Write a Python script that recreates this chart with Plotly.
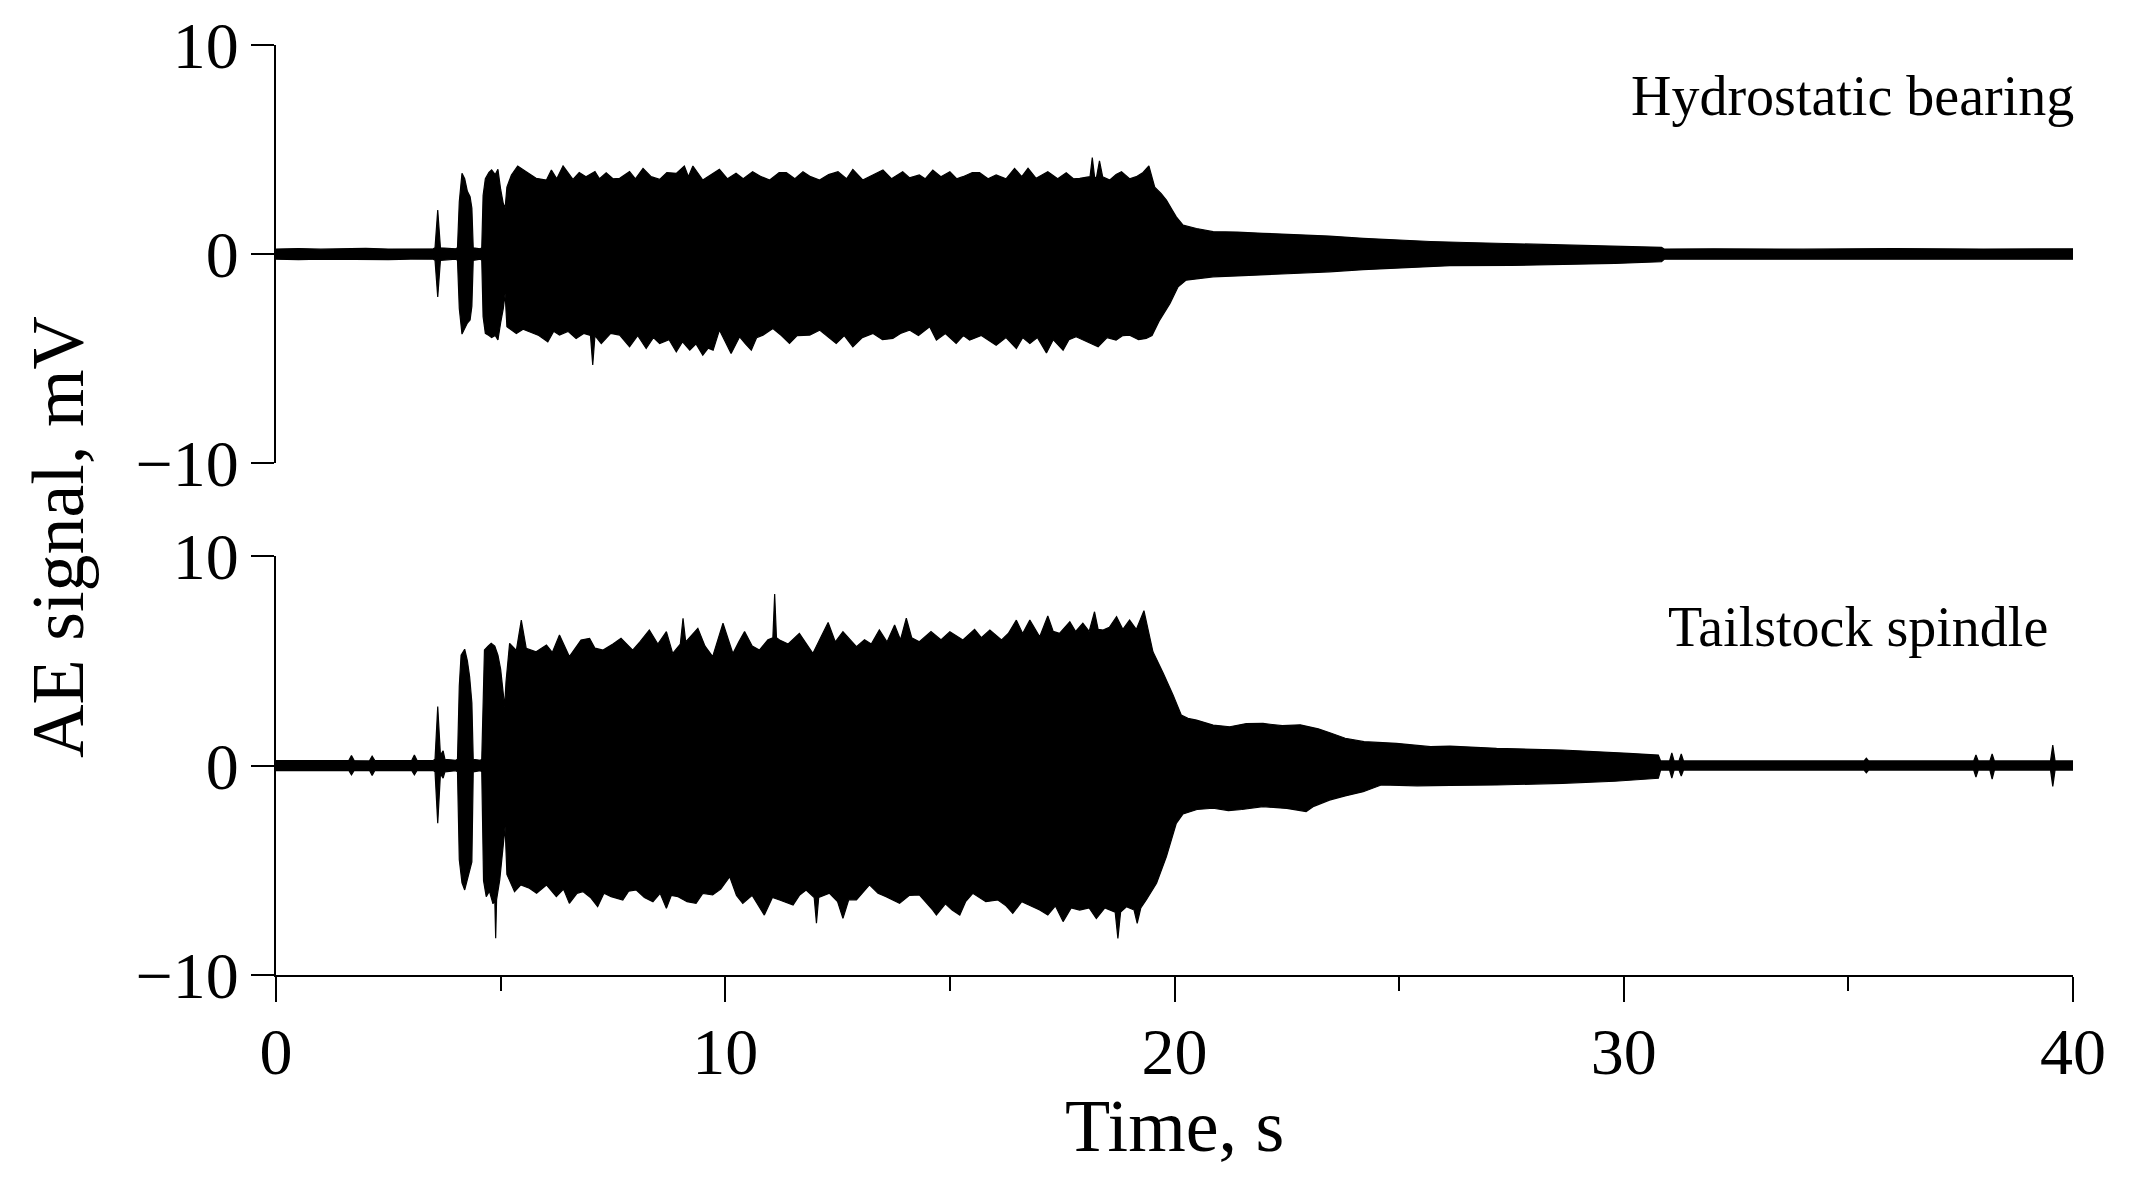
import plotly.graph_objects as go

# ---------------- data ----------------
# Hydrostatic bearing: upper envelope (time s, AE mV)
HB_UPPER = [
    (0.0, 0.24), (0.5, 0.26), (1.0, 0.23), (1.5, 0.25), (2.0, 0.27), (2.5, 0.24), (3.0, 0.26), (3.5, 0.25),
    (3.54, 0.3), (3.60, 2.1), (3.66, 0.3), (4.0, 0.25),
    (4.04, 0.3), (4.08, 2.5), (4.14, 3.86), (4.2, 3.6), (4.26, 3.0), (4.32, 2.74), (4.36, 2.2), (4.39, 0.3),
    (4.55, 0.25), (4.58, 0.3), (4.61, 2.8), (4.66, 3.6), (4.74, 3.9), (4.8, 4.02), (4.88, 3.8), (4.94, 4.05),
    (5.0, 3.1), (5.06, 2.4), (5.1, 2.2), (5.14, 3.2), (5.24, 3.78), (5.38, 4.21), (5.57, 3.94), (5.79, 3.62),
    (6.02, 3.54), (6.13, 4.02), (6.25, 3.6), (6.39, 4.21), (6.61, 3.57), (6.75, 3.9), (6.9, 3.7), (7.1, 3.95),
    (7.2, 3.6), (7.35, 3.89), (7.5, 3.6), (7.65, 3.62), (7.87, 3.94), (8.0, 3.6), (8.17, 4.1), (8.35, 3.7),
    (8.54, 3.57), (8.7, 3.9), (8.91, 3.86), (9.09, 4.21), (9.18, 3.7), (9.28, 4.21), (9.5, 3.54), (9.7, 3.8),
    (9.87, 4.05), (10.05, 3.6), (10.24, 3.86), (10.4, 3.6), (10.61, 3.94), (10.8, 3.7), (10.99, 3.54),
    (11.2, 3.9), (11.36, 3.89), (11.55, 3.6), (11.73, 3.94), (11.9, 3.7), (12.1, 3.54), (12.3, 3.8),
    (12.51, 3.94), (12.7, 3.6), (12.84, 4.05), (13.06, 3.54), (13.3, 3.8), (13.51, 4.02), (13.7, 3.6),
    (13.95, 3.94), (14.1, 3.65), (14.32, 3.78), (14.45, 3.6), (14.62, 4.02), (14.8, 3.7), (15.0, 3.94),
    (15.15, 3.6), (15.29, 3.7), (15.5, 3.9), (15.66, 3.89), (15.85, 3.6), (16.03, 3.78), (16.25, 3.6),
    (16.44, 4.1), (16.6, 3.7), (16.74, 4.1), (16.92, 3.62), (17.05, 3.8), (17.18, 3.94), (17.4, 3.6),
    (17.59, 3.89), (17.75, 3.6), (17.89, 3.62), (18.12, 3.7), (18.17, 4.62), (18.22, 3.7), (18.26, 3.62),
    (18.33, 4.46), (18.4, 3.7), (18.56, 3.54), (18.7, 3.8), (18.82, 3.94), (19.0, 3.6), (19.15, 3.7),
    (19.3, 3.9), (19.43, 4.21), (19.56, 3.2), (19.7, 2.9), (19.82, 2.58), (19.95, 2.1), (20.04, 1.78),
    (20.19, 1.38), (20.49, 1.22), (20.86, 1.07), (21.4, 1.05), (21.97, 0.99), (22.6, 0.95), (23.45, 0.86),
    (24.2, 0.75), (25.0, 0.66), (25.7, 0.6), (26.5, 0.55), (27.5, 0.5), (28.65, 0.46), (29.8, 0.4),
    (30.5, 0.36), (30.84, 0.32), (30.9, 0.24), (32.0, 0.25), (34.0, 0.23), (36.0, 0.26), (38.0, 0.24),
    (40.0, 0.25),
]
# Hydrostatic bearing: lower envelope
HB_LOWER = [
    (0.0, -0.25), (0.5, -0.27), (1.0, -0.24), (1.5, -0.26), (2.0, -0.25), (2.5, -0.27), (3.0, -0.24),
    (3.5, -0.25), (3.54, -0.3), (3.60, -2.05), (3.66, -0.3), (4.0, -0.25),
    (4.04, -0.3), (4.08, -2.6), (4.14, -3.83), (4.2, -3.6), (4.26, -3.3), (4.32, -3.16), (4.36, -2.5),
    (4.39, -0.3), (4.55, -0.25), (4.58, -0.3), (4.61, -3.0), (4.66, -3.8), (4.74, -3.9), (4.8, -4.0),
    (4.88, -3.9), (4.94, -4.11), (5.0, -3.3), (5.06, -2.6), (5.1, -1.9), (5.14, -3.48), (5.35, -3.8),
    (5.5, -3.6), (5.64, -3.72), (5.85, -3.9), (6.05, -4.2), (6.18, -3.7), (6.31, -3.88), (6.5, -3.7),
    (6.68, -4.04), (6.85, -3.8), (7.0, -3.9), (7.05, -5.31), (7.1, -3.9), (7.24, -4.28), (7.45, -3.8),
    (7.65, -3.88), (7.87, -4.44), (8.05, -3.9), (8.24, -4.52), (8.4, -4.0), (8.54, -4.28), (8.75, -4.1),
    (8.91, -4.68), (9.05, -4.2), (9.21, -4.6), (9.35, -4.3), (9.5, -4.84), (9.62, -4.5), (9.73, -4.6),
    (9.87, -3.64), (10.0, -4.2), (10.13, -4.76), (10.32, -3.96), (10.45, -4.3), (10.58, -4.6),
    (10.7, -4.0), (10.84, -3.88), (11.06, -3.56), (11.25, -3.9), (11.43, -4.28), (11.6, -3.9),
    (11.88, -3.88), (12.1, -3.64), (12.3, -4.0), (12.47, -4.28), (12.65, -3.9), (12.84, -4.44),
    (13.05, -4.0), (13.29, -3.8), (13.5, -4.1), (13.73, -4.04), (13.9, -3.8), (14.1, -3.64),
    (14.3, -3.9), (14.55, -3.48), (14.7, -4.12), (14.9, -3.8), (15.14, -4.28), (15.3, -3.9),
    (15.44, -4.12), (15.7, -3.9), (16.03, -4.36), (16.25, -4.0), (16.48, -4.52), (16.62, -4.0),
    (16.78, -4.28), (16.95, -4.0), (17.15, -4.73), (17.3, -4.1), (17.52, -4.6), (17.65, -4.1),
    (17.81, -3.96), (18.05, -4.2), (18.3, -4.44), (18.5, -4.0), (18.7, -4.12), (18.85, -3.9),
    (19.0, -3.88), (19.2, -4.1), (19.37, -4.04), (19.5, -3.9), (19.67, -3.16), (19.9, -2.36),
    (20.08, -1.57), (20.26, -1.25), (20.86, -1.09), (21.4, -1.05), (21.97, -1.0), (22.7, -0.93),
    (23.45, -0.85), (24.2, -0.75), (24.94, -0.66), (26.13, -0.56), (27.5, -0.55), (28.65, -0.5),
    (29.8, -0.45), (30.84, -0.37), (30.9, -0.25), (32.0, -0.26), (34.0, -0.24), (36.0, -0.27),
    (38.0, -0.25), (40.0, -0.25),
]

# Tailstock spindle: upper envelope
TS_UPPER = [
    (0.0, 0.24), (1.0, 0.22), (1.62, 0.24), (1.68, 0.48), (1.74, 0.24), (2.08, 0.22), (2.14, 0.45),
    (2.2, 0.24), (3.02, 0.24), (3.08, 0.5), (3.14, 0.24), (3.5, 0.24), (3.54, 0.3), (3.6, 2.81),
    (3.66, 0.5), (3.72, 0.7), (3.76, 0.3), (4.0, 0.25),
    (4.04, 0.3), (4.08, 3.8), (4.12, 5.27), (4.2, 5.55), (4.26, 5.0), (4.31, 4.24), (4.36, 3.0),
    (4.39, 0.3), (4.55, 0.25), (4.58, 0.3), (4.62, 4.5), (4.64, 5.51), (4.72, 5.7), (4.79, 5.83),
    (4.87, 5.7), (4.94, 5.27), (5.0, 4.6), (5.06, 3.5), (5.09, 2.81), (5.12, 4.0), (5.2, 5.83),
    (5.35, 5.5), (5.46, 6.94), (5.57, 5.59), (5.79, 5.43), (6.02, 5.75), (6.15, 5.4), (6.31, 6.23),
    (6.53, 5.2), (6.79, 5.99), (6.98, 6.07), (7.1, 5.6), (7.28, 5.51), (7.5, 5.8), (7.68, 6.07),
    (7.94, 5.51), (8.1, 5.9), (8.31, 6.47), (8.5, 5.8), (8.69, 6.39), (8.83, 5.35), (9.0, 5.8),
    (9.06, 7.03), (9.12, 5.9), (9.39, 6.55), (9.55, 5.7), (9.72, 5.2), (9.95, 6.79), (10.17, 5.35),
    (10.3, 5.9), (10.43, 6.39), (10.6, 5.7), (10.76, 5.51), (10.95, 6.0), (11.06, 6.1), (11.1, 8.19),
    (11.14, 6.1), (11.21, 5.99), (11.4, 5.8), (11.65, 6.31), (11.8, 5.8), (11.95, 5.35), (12.1, 6.0),
    (12.29, 6.83), (12.45, 5.9), (12.62, 6.39), (12.92, 5.67), (13.1, 6.0), (13.25, 5.8), (13.43, 6.47),
    (13.6, 5.9), (13.77, 6.71), (13.9, 6.0), (14.03, 7.03), (14.15, 6.1), (14.32, 5.91), (14.58, 6.39),
    (14.8, 6.0), (15.0, 6.39), (15.29, 5.99), (15.55, 6.5), (15.7, 6.1), (15.89, 6.47), (16.15, 5.99),
    (16.3, 6.3), (16.48, 6.94), (16.62, 6.3), (16.78, 6.94), (17.0, 6.15), (17.18, 7.14), (17.3, 6.4),
    (17.44, 6.31), (17.67, 6.86), (17.8, 6.4), (17.96, 6.79), (18.1, 6.4), (18.22, 7.34), (18.3, 6.5),
    (18.41, 6.47), (18.55, 6.6), (18.71, 7.1), (18.85, 6.5), (19.0, 6.94), (19.15, 6.5), (19.32, 7.39),
    (19.4, 6.6), (19.52, 5.43), (19.75, 4.4), (19.97, 3.36), (20.15, 2.41), (20.3, 2.25), (20.49, 2.17),
    (20.86, 1.93), (21.23, 1.85), (21.6, 2.0), (21.97, 2.01), (22.4, 1.9), (22.8, 1.94), (23.2, 1.75),
    (23.49, 1.54), (23.8, 1.3), (24.22, 1.14), (24.94, 1.06), (25.7, 0.9), (26.13, 0.93), (27.17, 0.82),
    (28.64, 0.74), (30.11, 0.58), (30.77, 0.5), (30.82, 0.22), (31.02, 0.22), (31.07, 0.6), (31.12, 0.22),
    (31.23, 0.22), (31.28, 0.55), (31.33, 0.22), (33.0, 0.21), (35.35, 0.22), (35.4, 0.35), (35.45, 0.22),
    (37.79, 0.22), (37.84, 0.5), (37.89, 0.22), (38.15, 0.22), (38.2, 0.55), (38.25, 0.22),
    (39.5, 0.22), (39.55, 0.98), (39.6, 0.22), (40.0, 0.22),
]
# Tailstock spindle: lower envelope
TS_LOWER = [
    (0.0, -0.24), (1.0, -0.23), (1.62, -0.24), (1.68, -0.45), (1.74, -0.24), (2.08, -0.23), (2.14, -0.47),
    (2.2, -0.24), (3.02, -0.24), (3.08, -0.45), (3.14, -0.24), (3.5, -0.24), (3.54, -0.3), (3.6, -2.76),
    (3.66, -0.4), (3.72, -0.6), (3.76, -0.3), (4.0, -0.25),
    (4.04, -0.3), (4.08, -4.5), (4.14, -5.6), (4.2, -5.94), (4.26, -5.5), (4.31, -4.99), (4.36, -4.6),
    (4.39, -0.3), (4.55, -0.25), (4.58, -0.3), (4.62, -5.5), (4.68, -6.26), (4.75, -6.0), (4.83, -6.6),
    (4.87, -6.4), (4.89, -8.25), (4.91, -6.4), (4.98, -5.46), (5.05, -4.0), (5.1, -2.92), (5.14, -5.2),
    (5.2, -5.46), (5.31, -6.02), (5.45, -5.7), (5.64, -5.86), (5.8, -6.1), (6.02, -5.7), (6.24, -6.26),
    (6.4, -5.9), (6.53, -6.58), (6.7, -6.1), (6.83, -6.02), (7.0, -6.3), (7.16, -6.74), (7.3, -6.1),
    (7.46, -6.26), (7.72, -6.42), (7.85, -6.0), (8.02, -5.94), (8.2, -6.3), (8.39, -6.5), (8.55, -6.1),
    (8.69, -6.82), (8.8, -6.2), (8.95, -6.26), (9.15, -6.5), (9.35, -6.58), (9.5, -6.1), (9.72, -6.18),
    (9.9, -5.9), (10.1, -5.31), (10.25, -6.2), (10.39, -6.58), (10.6, -6.2), (10.87, -7.14),
    (11.05, -6.3), (11.21, -6.42), (11.51, -6.66), (11.65, -6.2), (11.8, -5.94), (11.98, -6.3),
    (12.03, -7.53), (12.08, -6.3), (12.32, -6.1), (12.5, -6.5), (12.62, -7.3), (12.75, -6.4),
    (12.92, -6.42), (13.21, -5.7), (13.4, -6.1), (13.58, -6.26), (13.88, -6.58), (14.1, -6.2),
    (14.32, -6.18), (14.62, -6.9), (14.7, -7.14), (14.9, -6.6), (15.05, -6.9), (15.22, -7.14),
    (15.35, -6.5), (15.51, -6.1), (15.8, -6.5), (16.07, -6.42), (16.25, -6.7), (16.4, -7.06),
    (16.6, -6.5), (16.78, -6.66), (17.0, -6.9), (17.18, -7.14), (17.35, -6.7), (17.52, -7.45),
    (17.7, -6.8), (17.89, -6.9), (18.1, -6.8), (18.26, -7.3), (18.45, -6.8), (18.68, -7.0),
    (18.74, -8.25), (18.8, -7.0), (18.93, -6.74), (19.1, -6.9), (19.17, -7.53), (19.25, -6.8),
    (19.37, -6.42), (19.6, -5.62), (19.82, -4.35), (20.04, -2.76), (20.19, -2.31), (20.5, -2.1),
    (20.86, -2.04), (21.2, -2.15), (21.5, -2.1), (21.97, -1.96), (22.5, -2.05), (22.93, -2.2),
    (23.1, -1.95), (23.45, -1.65), (23.8, -1.45), (24.2, -1.25), (24.6, -0.93), (25.4, -0.97),
    (26.13, -0.95), (27.17, -0.93), (28.64, -0.85), (29.8, -0.75), (30.77, -0.61), (30.82, -0.22),
    (31.02, -0.22), (31.07, -0.6), (31.12, -0.22), (31.23, -0.22), (31.28, -0.5), (31.33, -0.22),
    (33.0, -0.23), (35.35, -0.22), (35.4, -0.35), (35.45, -0.22), (37.79, -0.22), (37.84, -0.55),
    (37.89, -0.22), (38.15, -0.22), (38.2, -0.65), (38.25, -0.22), (39.5, -0.22), (39.55, -1.0),
    (39.6, -0.22), (40.0, -0.22),
]

PANEL_LABELS = ["Hydrostatic bearing", "Tailstock spindle"]
X_TICKS = [0, 10, 20, 30, 40]
Y_TICKS = [-10, 0, 10]
X_TITLE = "Time, s"
Y_TITLE = "AE signal, mV"

FONT = "Liberation Serif"


def polygon(upper, lower):
    xs = [p[0] for p in upper] + [p[0] for p in reversed(lower)]
    ys = [p[1] for p in upper] + [p[1] for p in reversed(lower)]
    return xs + [xs[0]], ys + [ys[0]]


fig = go.Figure()
for i, (up, lo) in enumerate([(HB_UPPER, HB_LOWER), (TS_UPPER, TS_LOWER)]):
    xs, ys = polygon(up, lo)
    fig.add_trace(go.Scatter(
        x=xs, y=ys, mode="lines", fill="toself", fillcolor="black",
        line=dict(color="black", width=1.2),
        xaxis="x" if i == 0 else "x2", yaxis="y" if i == 0 else "y2",
        showlegend=False, hoverinfo="skip",
    ))

yax = dict(
    range=[-10, 10], tickvals=Y_TICKS, showline=True, linecolor="black", linewidth=2,
    ticks="outside", ticklen=23, tickwidth=2, tickcolor="black", showgrid=False, zeroline=False,
    tickfont=dict(family=FONT, size=66, color="black"), ticklabelstandoff=-1, automargin=False,
)
fig.update_layout(
    width=2136, height=1193,
    margin=dict(l=276, r=63, t=45, b=218),
    paper_bgcolor="white", plot_bgcolor="white",
    xaxis=dict(domain=[0, 1], range=[0, 40], visible=False, matches="x2", automargin=False),
    xaxis2=dict(
        domain=[0, 1], range=[0, 40], anchor="y2", tickvals=X_TICKS, showline=True,
        linecolor="black", linewidth=2, ticks="outside", ticklen=25, tickwidth=2, tickcolor="black",
        showgrid=False, zeroline=False, tickfont=dict(family=FONT, size=66, color="black"),
        minor=dict(dtick=5, tick0=0, ticks="outside", ticklen=14, tickwidth=2, tickcolor="black", showgrid=False),
        ticklabelstandoff=-7, automargin=False,
    ),
    yaxis=dict(domain=[0.5505, 1], anchor="x", **yax),
    yaxis2=dict(domain=[0, 0.4505], anchor="x2", **yax),
    annotations=[
        dict(text=PANEL_LABELS[0], x=40, y=7.56, xref="x", yref="y", xanchor="right", yanchor="middle",
             xshift=3, showarrow=False, font=dict(family=FONT, size=56, color="black")),
        dict(text=PANEL_LABELS[1], x=39.42, y=6.61, xref="x2", yref="y2", xanchor="right", yanchor="middle",
             xshift=3, showarrow=False, font=dict(family=FONT, size=56, color="black")),
        dict(text=X_TITLE, x=0.5, y=-0.1624, xref="paper", yref="paper", xanchor="center", yanchor="middle",
             showarrow=False, font=dict(family=FONT, size=74, color="black")),
        dict(text=Y_TITLE, x=-0.121, y=0.4705, xref="paper", yref="paper", xanchor="center", yanchor="middle",
             textangle=-90, showarrow=False, font=dict(family=FONT, size=74, color="black")),
    ],
)

fig.write_html("out.html", post_script="document.body.style.margin='0px';",
               config={"displayModeBar": False})
